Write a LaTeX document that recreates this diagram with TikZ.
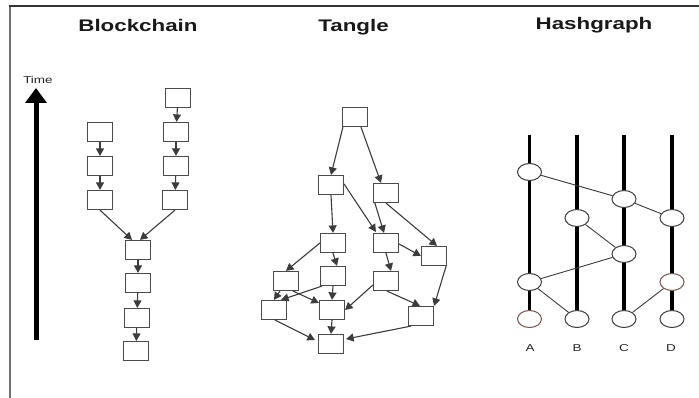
\documentclass[tikz,border=0pt]{standalone}
\usepackage{fontspec}
\setmainfont{Liberation Sans}
\usetikzlibrary{arrows.meta,shapes.geometric,calc}
\definecolor{edgecol}{RGB}{60,60,60}
\definecolor{boxcol}{RGB}{75,75,75}
\definecolor{browncol}{RGB}{115,85,80}
\tikzset{
  blk/.style={draw=boxcol, line width=1.2pt, minimum width=25pt, minimum height=19pt, inner sep=0pt, fill=white},
  arr/.style={draw=edgecol, line width=1.1pt, -{Triangle[length=7.5pt,width=8pt]}},
  evt/.style={ellipse, draw=edgecol, line width=1pt, minimum width=24pt, minimum height=17pt, inner sep=0pt, fill=white},
  lane/.style={line width=3.5pt, black},
  gossip/.style={line width=0.9pt, draw=edgecol},
  ttl/.style={anchor=base, inner sep=0pt, font=\fontsize{16.8}{20}\selectfont\bfseries, text=black!90},
  lbl/.style={anchor=base, inner sep=0pt, font=\fontsize{10}{12}\selectfont, text=black!85}
}
\begin{document}
\begin{tikzpicture}[x=1pt,y=-1pt]
\useasboundingbox (0,0) rectangle (699,398);
\fill[white] (0,0) rectangle (699,398);
% frame
\draw[line width=2pt, black!55] (10,398) -- (10,6);
\draw[line width=1.5pt, black!80] (9,6) -- (699,6);

% titles
\node[ttl] (tBlock) at (138,32) {\scalebox{1.33}[1]{Blockchain}};
\node[ttl] (tTangle) at (353.5,32) {\scalebox{1.33}[1]{Tangle}};
\node[ttl] (tHash) at (594,30) {\scalebox{1.33}[1]{Hashgraph}};

% time arrow
\node[lbl] (time) at (38,84) {\scalebox{1.35}[1]{Time}};
\coordinate (timeBot) at (36,340);
\coordinate (timeTop) at (36,88);
\draw[line width=5pt, black, -{Triangle[length=15pt,width=21pt]}] (timeBot) -- (timeTop);

% ---------- Blockchain ----------
\node[blk] (bl1) at (100,132) {};
\node[blk] (bl2) at (100,166) {};
\node[blk] (bl3) at (100,200) {};
\node[blk] (br0) at (178,98) {};
\node[blk] (br1) at (176,132) {};
\node[blk] (br2) at (176,166) {};
\node[blk] (br3) at (175,200) {};
\node[blk] (bc1) at (138,250) {};
\node[blk] (bc2) at (138,283) {};
\node[blk] (bc3) at (137,318) {};
\node[blk] (bc4) at (136,351) {};
\draw[arr] (bl1) -- (bl2);
\draw[arr] (bl2) -- (bl3);
\draw[arr] (br0) -- (br1);
\draw[arr] (br1) -- (br2);
\draw[arr] (br2) -- (br3);
\draw[arr] (bl3.south) -- ($(bc1.north)+(-6,0)$);
\draw[arr] (br3.south) -- ($(bc1.north)+(2,0)$);
\draw[arr] (bc1) -- (bc2);
\draw[arr] (bc2) -- (bc3);
\draw[arr] (bc3) -- (bc4);

% ---------- Tangle ----------
\node[blk] (t0) at (355,117) {};
\node[blk] (ta) at (331,185) {};
\node[blk] (tb) at (386,193) {};
\node[blk] (tc) at (333,243) {};
\node[blk] (td) at (386,243) {};
\node[blk] (te) at (434,256) {};
\node[blk] (tf) at (286,281) {};
\node[blk] (tg) at (333,276) {};
\node[blk] (th) at (386,281) {};
\node[blk] (ti) at (274,310) {};
\node[blk] (tj) at (332,310) {};
\node[blk] (tk) at (421,316) {};
\node[blk] (tl) at (331,344) {};
\draw[arr] ($(t0.south west)+(1,0)$) -- (ta.north);
\draw[arr] ($(t0.south)+(6,0)$) -- ($(tb.north)+(-5,0)$);
\draw[arr] (ta.south) -- (tc.north);
\draw[arr] ($(ta.east)+(0,-1)$) -- ($(td.north west)+(3,-1)$);
\draw[arr] ($(tb.south west)+(2,0)$) -- ($(td.north)+(-2,0)$);
\draw[arr] ($(tb.south)+(0,0)$) -- ($(te.north)+(3,0)$);
\draw[arr] (tc.west) -- (tf.north);
\draw[arr] (tc.south) -- ($(tg.north)+(4,0)$);
\draw[arr] ($(td.east)+(0,1)$) -- (te.west);
\draw[arr] (td.south) -- ($(th.north)+(5,0)$);
\draw[arr] ($(te.south east)+(-1,0)$) -- ($(tk.north east)+(0,0)$);
\draw[arr] ($(tf.south west)+(7,0)$) -- ($(ti.north)+(0,0)$);
\draw[arr] ($(tf.south east)+(-6,0)$) -- ($(tj.north west)+(0,3)$);
\draw[arr] ($(tg.south west)+(2,0)$) -- ($(ti.north east)+(-6,0)$);
\draw[arr] (tg.south) -- (tj.north);
\draw[arr] ($(th.west)+(0,4)$) -- (tj.east);
\draw[arr] ($(th.south)+(1,0)$) -- ($(tk.north)+(-1,0)$);
\draw[arr] ($(ti.south)+(1,0)$) -- ($(tl.west)+(-3,-4)$);
\draw[arr] (tj.south) -- (tl.north);
\draw[arr] ($(tk.south west)+(3,0)$) -- ($(tl.east)+(2,-5)$);

% ---------- Hashgraph ----------
\coordinate (laneA) at (529.5,135);
\coordinate (laneB) at (577,135);
\coordinate (laneC) at (624,135);
\coordinate (laneD) at (672,135);
\node[evt, draw=browncol] (a0) at (529.5,319) {};
\node[evt] (b0) at (577,319) {};
\node[evt] (c0) at (624,319) {};
\node[evt] (d0) at (672,319) {};
\draw[lane] (laneA) -- (a0.north);
\draw[lane] (laneB) -- (b0.north);
\draw[lane] (laneC) -- (c0.north);
\draw[lane] (laneD) -- (d0.north);
\node[evt] (a1) at (529.5,172) {};
\node[evt] (c1) at (624,199) {};
\node[evt] (b1) at (577,218) {};
\node[evt] (d1) at (672,218) {};
\node[evt] (c2) at (624,254) {};
\node[evt] (a2) at (529.5,282) {};
\node[evt, draw=browncol] (d2) at (672,282) {};
\draw[gossip] (a1) -- (c1);
\draw[gossip] (c1) -- (d1);
\draw[gossip] (b1) -- (c2);
\draw[gossip] (c2) -- (a2);
\draw[gossip] (a2) -- (b0);
\draw[gossip] (c0) -- (d2);
\node[lbl] (labA) at (530,351) {\scalebox{1.35}[1]{A}};
\node[lbl] (labB) at (577,351) {\scalebox{1.35}[1]{B}};
\node[lbl] (labC) at (624,351) {\scalebox{1.35}[1]{C}};
\node[lbl] (labD) at (671,351) {\scalebox{1.35}[1]{D}};
\end{tikzpicture}
\end{document}
